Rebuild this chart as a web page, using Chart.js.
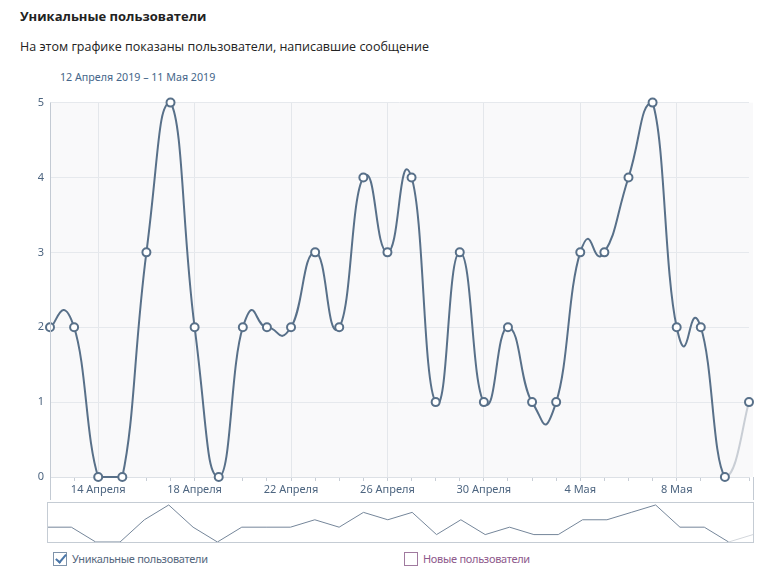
<!DOCTYPE html>
<html>
<head>
<meta charset="utf-8">
<script src="https://cdn.jsdelivr.net/npm/chart.js@4/dist/chart.umd.min.js"></script>
<style>
  body { margin: 0; width: 767px; height: 581px; background: #fff; position: relative; overflow: hidden; font-family: "Open Sans", sans-serif; }
  #title { position: absolute; left: 20px; top: 7px; font-size: 13px; font-weight: bold; color: #222; }
  #subtitle { position: absolute; left: 20px; top: 38px; font-size: 12.5px; color: #222; }
  #range { position: absolute; left: 60px; top: 70px; font-size: 10.7px; color: #45668a; font-family: "Noto Sans", sans-serif; }
  #main { position: absolute; left: 0; top: 90px; }
  #nav { position: absolute; left: 0; top: 500px; }
  .leg { position: absolute; top: 551px; font-size: 11px; letter-spacing: -0.3px; font-family: "Noto Sans", sans-serif; }
  .box { position: absolute; left: 0; top: 1px; width: 12px; height: 12px; border: 1px solid; }
  .leg span.txt { position: absolute; left: 19px; top: 0; white-space: nowrap; }
  #leg1 { left: 53px; color: #55677d; }
  #leg1 .box { border-color: #7f93aa; }
  #leg1 .box::after { content: ""; position: absolute; left: 4px; top: -1px; width: 4px; height: 9px; border: solid #4a76a8; border-width: 0 2px 2px 0; transform: rotate(40deg); }
  #leg2 { left: 404px; color: #8e5a8c; }
  #leg2 .box { border-color: #a07a9f; }
</style>
</head>
<body>
<div id="title">Уникальные пользователи</div>
<div id="subtitle">На этом графике показаны пользователи, написавшие сообщение</div>
<div id="range">12 Апреля 2019 – 11 Мая 2019</div>
<canvas id="main" width="767" height="410"></canvas>
<canvas id="nav" width="767" height="45"></canvas>
<div class="leg" id="leg1"><div class="box"></div><span class="txt">Уникальные пользователи</span></div>
<div class="leg" id="leg2"><div class="box"></div><span class="txt">Новые пользователи</span></div>
<script>
const days = [
  '12 Апреля', '13 Апреля', '14 Апреля', '15 Апреля', '16 Апреля', '17 Апреля', '18 Апреля',
  '19 Апреля', '20 Апреля', '21 Апреля', '22 Апреля', '23 Апреля', '24 Апреля', '25 Апреля',
  '26 Апреля', '27 Апреля', '28 Апреля', '29 Апреля', '30 Апреля', '1 Мая', '2 Мая', '3 Мая',
  '4 Мая', '5 Мая', '6 Мая', '7 Мая', '8 Мая', '9 Мая', '10 Мая', '11 Мая'
];
const users = [2, 2, 0, 0, 3, 5, 2, 0, 2, 2, 2, 3, 2, 4, 3, 4, 1, 3, 1, 2, 1, 1, 3, 3, 4, 5, 2, 2, 0, 1];
const yMin = 0;
const yMax = 5;

const lineColor = '#587089';
const lastColor = '#c9ced5';
const tickFont = { family: '"Noto Sans", sans-serif', size: 11 };

// plot background + long left axis line
const plotBg = {
  id: 'plotBg',
  beforeDraw(chart) {
    const { ctx, chartArea: a } = chart;
    ctx.save();
    ctx.fillStyle = '#f9f9fa';
    ctx.fillRect(a.left, a.top, a.right - a.left + 4, a.bottom - a.top);
    ctx.restore();
  },
  afterDraw(chart) {
    const { ctx, chartArea: a } = chart;
    ctx.save();
    ctx.strokeStyle = '#c3cad3';
    ctx.lineWidth = 1;
    ctx.beginPath();
    ctx.moveTo(a.left + 0.5, a.top);
    ctx.lineTo(a.left + 0.5, chart.height);
    ctx.moveTo(a.right + 4.5, a.bottom);
    ctx.lineTo(a.right + 4.5, chart.height);
    ctx.stroke();
    ctx.restore();
  }
};

// even spline: control points from neighbours, capped to the plot area
const evenSpline = {
  id: 'evenSpline',
  beforeDatasetDraw(chart, args) {
    const a = chart.chartArea;
    const meta = args.meta;
    const pts = meta.data;
    const k = 0.26;
    const capX = v => Math.max(a.left, Math.min(a.right, v));
    const capY = v => Math.max(a.top, Math.min(a.bottom, v));
    pts.forEach((p, i) => {
      const prev = pts[i - 1] || p;
      const next = pts[i + 1] || p;
      const dx = next.x - prev.x;
      const dy = next.y - prev.y;
      p.cp1x = capX(p.x - k * dx);
      p.cp1y = capY(p.y - k * dy);
      p.cp2x = capX(p.x + k * dx);
      p.cp2y = capY(p.y + k * dy);
    });
    meta.dataset._pointsUpdated = true;
  }
};

new Chart(document.getElementById('main'), {
  type: 'line',
  data: {
    labels: days,
    datasets: [{
      data: users,
      borderColor: lineColor,
      borderWidth: 2,
      tension: 0.4,
      clip: false,
      pointRadius: 4,
      pointBorderWidth: 2,
      pointBackgroundColor: '#fff',
      pointBorderColor: lineColor,
      segment: {
        borderColor: c => c.p1DataIndex === users.length - 1 ? lastColor : undefined
      }
    }]
  },
  options: {
    responsive: false,
    animation: false,
    layout: { padding: { top: 11, right: 18, left: 0, bottom: 0 } },
    plugins: { legend: { display: false }, tooltip: { enabled: false } },
    scales: {
      x: {
        offset: false,
        grid: {
          color: c => c.index % 4 === 2 ? '#e4e7eb' : 'transparent',
          tickColor: '#c8ced6',
          tickLength: 4
        },
        border: { color: '#dde1e6' },
        ticks: {
          autoSkip: false,
          maxRotation: 0,
          padding: 2,
          color: '#4d6580',
          font: tickFont,
          callback: (v, i) => i % 4 === 2 ? days[i] : ''
        },
        afterFit: s => { s.height = 23; }
      },
      y: {
        min: yMin,
        max: yMax,
        grid: { color: '#e6e9ed', drawTicks: false },
        border: { display: false },
        ticks: { stepSize: 1, padding: 6, color: '#4d6580', font: tickFont },
        afterFit: s => { s.width = 50; }
      }
    }
  },
  plugins: [plotBg, evenSpline]
});

// navigator box
const navBox = {
  id: 'navBox',
  afterDraw(chart) {
    const { ctx, chartArea: a } = chart;
    ctx.save();
    ctx.strokeStyle = '#c5ccd4';
    ctx.lineWidth = 1;
    ctx.strokeRect(a.left + 0.5, a.top + 0.5, a.right - a.left, a.bottom - a.top);
    ctx.restore();
  }
};

new Chart(document.getElementById('nav'), {
  type: 'line',
  data: {
    labels: days,
    datasets: [{
      data: users,
      borderColor: '#75869a',
      borderWidth: 1,
      tension: 0,
      pointRadius: 0,
      segment: {
        borderColor: c => c.p1DataIndex === users.length - 1 ? '#d3d7dc' : undefined
      }
    }]
  },
  options: {
    responsive: false,
    animation: false,
    layout: { padding: { top: 2, right: 14, left: 47, bottom: 3 } },
    plugins: { legend: { display: false }, tooltip: { enabled: false } },
    scales: {
      x: { display: false, offset: false },
      y: { display: false, min: yMin, max: 5.4 }
    }
  },
  plugins: [navBox]
});
</script>
</body>
</html>
